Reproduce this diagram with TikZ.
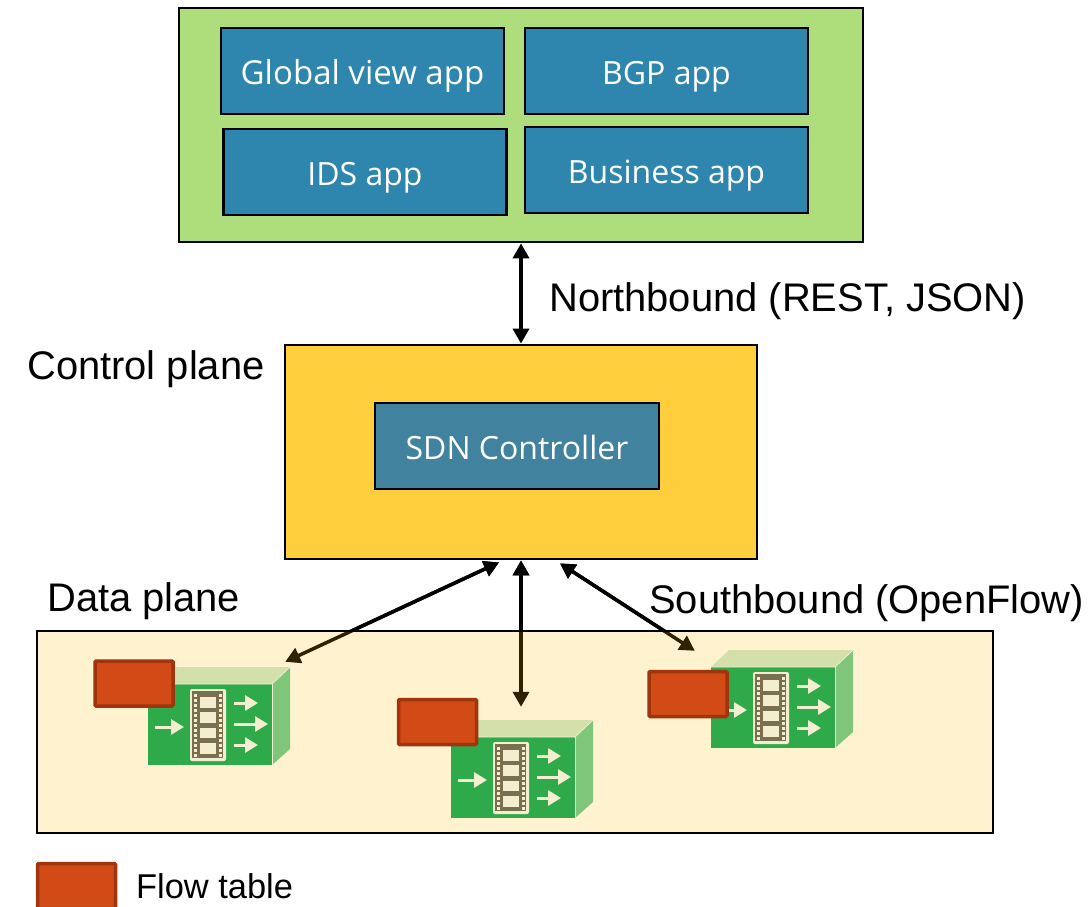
\documentclass[tikz,border=0pt]{standalone}
\usepackage{fontspec}
\setmainfont{Liberation Sans}
\newfontfamily\appfont{Open Sans}
\usetikzlibrary{arrows.meta}

\definecolor{appgreen}{HTML}{AEDD7B}
\definecolor{appblue}{HTML}{2E86AE}
\definecolor{ctrlyellow}{HTML}{FFCE3D}
\definecolor{ctrlblue}{HTML}{41839E}
\definecolor{datacream}{HTML}{FFF2CF}
\definecolor{tablered}{HTML}{D24A15}
\definecolor{tableedge}{HTML}{A0340F}
\definecolor{linkbrown}{HTML}{2E2200}
\definecolor{swfront}{HTML}{2EAA4A}
\definecolor{swtop}{HTML}{D3E0AB}
\definecolor{swside}{HTML}{7FC67A}
\definecolor{swpale}{HTML}{F3EECF}
\definecolor{swfilm}{HTML}{7A6F4F}

\tikzset{
  plane/.style={draw=black,line width=2.8pt,inner sep=0pt},
  appbox/.style={draw=black,line width=2.8pt,fill=appblue,text=white,inner sep=0pt,
    minimum width=283,minimum height=86,text height=32pt,text depth=5pt,
    font=\appfont\fontsize{32}{39}\selectfont},
  flowtable/.style={draw=tableedge,line width=3.5pt,fill=tablered,rounded corners=1pt,inner sep=0pt,
    minimum width=78,minimum height=45},
  label/.style={inner sep=0pt,anchor=base west,font=\fontsize{39.9}{48}\selectfont},
  link/.style={line width=3.5pt,{Triangle[length=15pt,width=16pt]}-{Triangle[length=15pt,width=16pt]}},
  flowarrow/.style={draw=swpale,line width=3pt,-{Triangle[length=13pt,width=15pt]}},
  switch/.pic={
    \node[fill=swfront,inner sep=0pt,minimum width=124,minimum height=81] (-front) at (62,40.5) {};
    \fill[swtop] (0,0) -- (18,-17) -- (142,-17) -- (124,0) -- cycle;
    \fill[swside] (124,0) -- (142,-17) -- (142,65) -- (124,81) -- cycle;
    \draw[swpale,line width=.8pt] (0,0) -- (124,0) -- (142,-17);
    \draw[swpale,line width=.8pt] (124,0) -- (124,81);
    \fill[swpale,rounded corners=2pt] (42,5) rectangle (78,77);
    \fill[swfilm] (44,7) rectangle (75,74);
    \foreach \top/\bot in {13/24,28/39,44/54,59/70}
      \fill[swpale] (52,\top) rectangle (68,\bot);
    \foreach \y in {10,15,...,72}{
      \fill[swpale] (46,\y) rectangle (48.5,\y+2.5);
      \fill[swpale] (71,\y) rectangle (73.5,\y+2.5);
    }
    \draw[flowarrow] (7,43) -- (36,43);
    \draw[flowarrow] (86,19) -- (110,19);
    \draw[flowarrow] (86,40) -- (120,40);
    \draw[flowarrow] (86,61) -- (110,61);
  }
}

\begin{document}
\begin{tikzpicture}[x=1pt,y=-1pt]
\useasboundingbox (0,0) rectangle (1089,907);

% application plane
\node[plane,fill=appgreen,minimum width=684,minimum height=234] (apps) at (521,125) {};
\node[appbox,font=\appfont\fontsize{33}{40}\selectfont] (global) at (362.5,71) {Global view app};
\node[appbox] (bgp) at (666.5,71) {BGP app};
\node[appbox] (ids) at (365,172) {IDS app};
\node[appbox] (business) at (666.5,170) {Business app};

% control plane
\node[plane,fill=ctrlyellow,minimum width=472,minimum height=214] (control) at (521,452) {};
\node[appbox,fill=ctrlblue,minimum width=284,text height=31pt,text depth=5pt] (sdn) at (517,446) {SDN Controller};

% data plane
\node[plane,fill=datacream,minimum width=956,minimum height=202] (data) at (515,732) {};

\pic (swa) at (148,684) {switch};
\pic (swb) at (451,737) {switch};
\pic (swc) at (711,667) {switch};

\node[flowtable] (tablea) at (134,683.5) {};
\node[flowtable] (tableb) at (437.5,722) {};
\node[flowtable] (tablec) at (688,694) {};

% arrows
\draw[link] (apps.south) -- (control.north);

\coordinate (upa) at ([xshift=-22pt,yshift=-2pt]control.south);
\coordinate (upb) at (control.south);
\coordinate (upc) at ([xshift=39pt,yshift=-3pt]control.south);
\coordinate (downa) at ([xshift=13pt,yshift=22pt]swa-front.north east);
\coordinate (downb) at ([xshift=8pt,yshift=30pt]swb-front.north);
\coordinate (downc) at ([xshift=-16pt,yshift=16pt]swc-front.north west);

\foreach \from/\to in {upa/downa,upb/downb,upc/downc}{
  \draw[link,linkbrown] (\from) -- (\to);
  \begin{scope}
    \clip (0,0) rectangle (1089,631);
    \draw[link] (\from) -- (\to);
  \end{scope}
}

% labels
\node[label] (north) at (549,311) {Northbound (REST, JSON)};
\node[label] (ctrllabel) at (27,379) {Control plane};
\node[label] (datalabel) at (47,611) {Data plane};
\node[label] (south) at (649,613) {Southbound (OpenFlow)};

% legend
\node[flowtable] (legend) at (76.5,886) {};
\node[label,font=\fontsize{34.4}{41}\selectfont] (legendlabel) at (136,898) {Flow table};

\end{tikzpicture}
\end{document}
